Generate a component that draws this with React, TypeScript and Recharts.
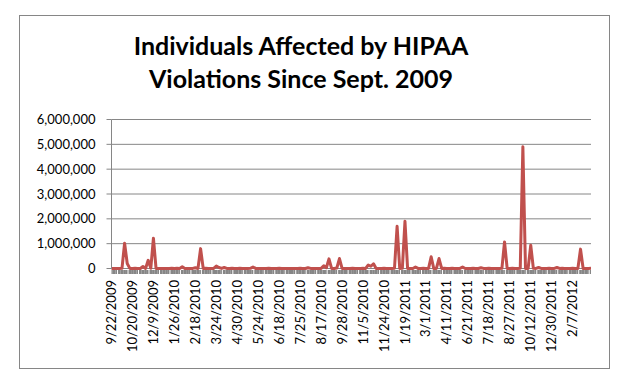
import { LineChart, Line, XAxis, YAxis, CartesianGrid } from "recharts";

// one label every PER_LABEL rows of the breach list
const PER_LABEL = 8;

const DATE_LABELS = [
  "9/22/2009", "10/20/2009", "12/9/2009", "1/26/2010", "2/18/2010", "3/24/2010",
  "4/30/2010", "5/24/2010", "6/18/2010", "7/25/2010", "8/17/2010", "9/28/2010",
  "11/5/2010", "11/24/2010", "1/19/2011", "3/1/2011", "4/11/2011", "6/21/2011",
  "7/18/2011", "8/27/2011", "10/12/2011", "12/30/2011", "2/7/2012",
];

// individuals affected, one entry per reported breach
const AFFECTED = [
  1200, 3400, 2100, 800, 5600, 1020000, 200000, 4300, 1900, 6200,
  2500, 900, 80000, 3100, 330000, 7400, 1220000, 2800, 1500, 4100,
  600, 3300, 2200, 9500, 1700, 5100, 2400, 70000, 1300, 3800,
  2000, 4600, 30000, 1100, 800000, 2900, 6800, 1600, 3500, 2300,
  100000, 40000, 4900, 40000, 1400, 3000, 7800, 2600, 1000, 5300,
  2100, 3700, 1800, 6400, 60000, 2700, 4400, 900, 3200, 1500,
  5800, 2300, 1200, 4000, 8600, 1700, 3600, 2500, 700, 4800,
  3100, 1900, 6100, 2200, 1000, 30000, 4200, 1400, 3900, 2800,
  5000, 110000, 30000, 390000, 2600, 1300, 20000, 400000, 3400, 1800,
  4500, 2000, 7200, 1100, 3300, 2700, 5500, 1600, 140000, 90000,
  190000, 2900, 4100, 1200, 6600, 2400, 3800, 1500, 9000, 1700000,
  3000, 5200, 1900000, 1700, 4700, 2200, 60000, 3500, 1000, 6000,
  2600, 4300, 470000, 1400, 3700, 400000, 2100, 5900, 1800, 3200,
  7000, 2500, 1300, 4600, 60000, 2000, 3900, 1100, 5400, 2800,
  1600, 30000, 4400, 2300, 8200, 1500, 3600, 2700, 900, 5000,
  1070000, 3100, 2000, 6300, 1700, 4200, 12000, 4900000, 3400, 2200,
  940000, 5600, 1400, 40000, 2900, 4500, 1200, 7500, 2100, 3300,
  40000, 1800, 5100, 2600, 3900, 1300, 6700, 2400, 4000, 780000,
  2000, 3600, 1500, 5800,
];

const Y_TICKS = [0, 1000000, 2000000, 3000000, 4000000, 5000000, 6000000];

const GRAY = "#868686";
const RED = "#C0504D";
const FONT = "Lato, 'Open Sans', sans-serif";

const W = 628;
const H = 382;
const MARGIN = { top: 119.5, right: 37, bottom: 13.5, left: 0 };
const Y_AXIS_W = 111.5;
const PLOT_W = W - MARGIN.left - MARGIN.right - Y_AXIS_W;
const STEP = PLOT_W / (AFFECTED.length - 1);

const data = AFFECTED.map((v, i) => ({ idx: i, affected: v }));

function DateTick(props: any) {
  const { x, y, payload } = props;
  const i = payload.value as number;
  const last = AFFECTED.length - 1;
  const left = i === 0 ? x : x - STEP / 2;
  const right = i === last ? x : x + STEP / 2 - (i % 4 === 2 ? 1 : 0);
  const label = i % PER_LABEL === 0 ? DATE_LABELS[i / PER_LABEL] : null;
  const ty = y + 11.5;
  return (
    <g>
      <rect x={left} y={y + 1.5} width={Math.max(0, right - left)} height={4} fill={GRAY} />
      {label && (
        <text
          x={x}
          y={ty}
          dy="0.35em"
          textAnchor="end"
          transform={`rotate(-90, ${x}, ${ty})`}
          fill="#000"
          fontSize={13}
          fontFamily={FONT}
        >
          {label}
        </text>
      )}
    </g>
  );
}

export default function App() {
  return (
    <div style={{ position: "absolute", left: 0, top: 0, width: W, height: H, background: "#fff", fontFamily: FONT }}>
      <div
        style={{
          position: "absolute", left: 19, top: 15, width: 591, height: 354,
          boxSizing: "border-box", border: `1px solid ${GRAY}`,
        }}
      />
      <div
        style={{
          position: "absolute", left: 0, top: 29, width: 602, textAlign: "center",
          fontSize: 25, fontWeight: 700, lineHeight: "33px", color: "#000",
        }}
      >
        Individuals Affected by HIPAA
        <br />
        Violations Since Sept. 2009
      </div>
      <div style={{ position: "absolute", left: 0, top: 0 }}>
        <LineChart width={W} height={H} data={data} margin={MARGIN}>
          <CartesianGrid vertical={false} stroke={GRAY} />
          <XAxis
            dataKey="idx"
            type="category"
            scale="point"
            interval={0}
            height={100}
            axisLine={false}
            tickLine={false}
            tickSize={0}
            tickMargin={0}
            tick={<DateTick />}
          />
          <YAxis
            width={Y_AXIS_W}
            domain={[0, 6000000]}
            ticks={Y_TICKS}
            interval={0}
            axisLine={{ stroke: GRAY }}
            tickLine={{ stroke: GRAY }}
            tickSize={5}
            tickMargin={11}
            tick={{ fill: "#000", fontSize: 13, fontFamily: FONT }}
            tickFormatter={(v: number) => v.toLocaleString("en-US")}
          />
          <Line
            type="linear"
            dataKey="affected"
            stroke={RED}
            strokeWidth={3}
            strokeLinejoin="round"
            dot={false}
            isAnimationActive={false}
          />
        </LineChart>
      </div>
    </div>
  );
}
